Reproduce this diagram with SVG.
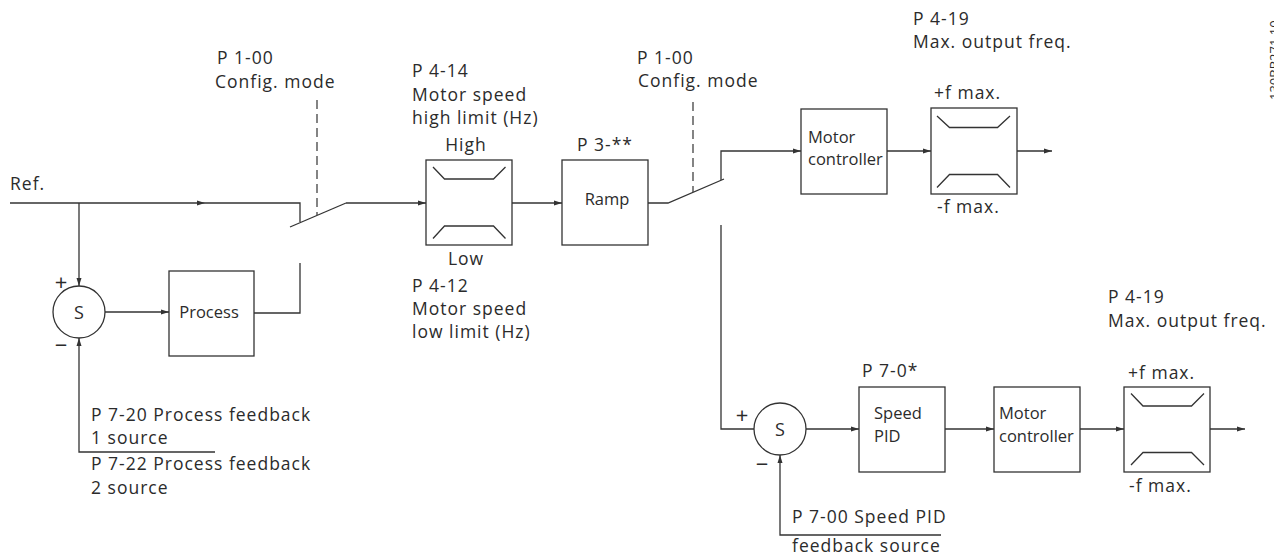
<svg xmlns="http://www.w3.org/2000/svg" width="1274" height="555" viewBox="0 0 1274 555">
<style>
  .ln{fill:none;stroke:#333;stroke-width:1.3}
  .box{fill:#fff;stroke:#333;stroke-width:1.3}
  .dash{fill:none;stroke:#333;stroke-width:1.2;stroke-dasharray:9 5}
  text{font-family:"Open Sans","Noto Sans","Liberation Sans",sans-serif;fill:#2b2b2b}
  .an{font-size:17.5px;letter-spacing:1px}
  .bl{font-size:16.5px}
  .sg{font-size:18px}
  .pm{font-size:22px}
  .mid{text-anchor:middle}
</style>
<defs>
  <marker id="ah" markerUnits="userSpaceOnUse" markerWidth="9" markerHeight="7" refX="8" refY="3" orient="auto">
    <path d="M0,0.5 L8,3 L0,5.5 z" fill="#333"/>
  </marker>
</defs>
<rect width="1274" height="555" fill="#fff"/>

<g id="connectors">
  <path class="ln" d="M10,203 H205" marker-end="url(#ah)"/>
  <path class="ln" d="M205,203 H300 V222"/>
  <path class="ln" d="M290,227 L346,203"/>
  <path class="ln" d="M346,203 H426" marker-end="url(#ah)"/>
  <path class="dash" d="M317,100 V215"/>
  <path class="ln" d="M300,263 V313 H254"/>
  <path class="ln" d="M79,203 V286" marker-end="url(#ah)"/>
  <path class="ln" d="M105,312 H169" marker-end="url(#ah)"/>
  <path class="ln" d="M215,452 H79 V338" marker-end="url(#ah)"/>
  <path class="ln" d="M512,203 H562" marker-end="url(#ah)"/>
  <path class="ln" d="M648,203 H668 L724,179"/>
  <path class="dash" d="M693,102 V192"/>
  <path class="ln" d="M721,180 V151 H801" marker-end="url(#ah)"/>
  <path class="ln" d="M887,151 H931" marker-end="url(#ah)"/>
  <path class="ln" d="M1017,151 H1052" marker-end="url(#ah)"/>
  <path class="ln" d="M721,225 V429 H754"/>
  <path class="ln" d="M806,429 H859" marker-end="url(#ah)"/>
  <path class="ln" d="M941,535 H780 V455" marker-end="url(#ah)"/>
  <path class="ln" d="M945,429 H994" marker-end="url(#ah)"/>
  <path class="ln" d="M1080,429 H1124" marker-end="url(#ah)"/>
  <path class="ln" d="M1210,429 H1245" marker-end="url(#ah)"/>
</g>

<g id="sum1">
  <circle class="box" cx="79" cy="312" r="26"/>
  <text class="sg mid" x="79" y="318.5">S</text>
  <text class="pm mid" x="61" y="290">+</text>
  <text class="pm mid" x="61" y="353">−</text>
</g>

<g id="process">
  <rect class="box" x="169" y="271" width="85" height="85"/>
  <text class="bl mid" x="209" y="318">Process</text>
</g>

<g id="limit1">
  <rect class="box" x="426" y="160" width="86" height="85"/>
  <path class="ln" d="M433,167 L444.5,179 H493.5 L505.5,167 M433,238.5 L444.5,226 H493.5 L505.5,238.5"/>
  <text class="an mid" x="466" y="151">High</text>
  <text class="an mid" x="466" y="265">Low</text>
</g>

<g id="ramp">
  <rect class="box" x="562" y="160" width="86" height="85"/>
  <text class="bl mid" x="607" y="205">Ramp</text>
  <text class="an" x="577" y="151">P 3-**</text>
</g>

<g id="motorctrl1">
  <rect class="box" x="801" y="109" width="86" height="85"/>
  <text class="bl" x="808" y="143">Motor</text>
  <text class="bl" x="808" y="165">controller</text>
</g>

<g id="limit2">
  <rect class="box" x="931" y="108" width="86" height="86"/>
  <path class="ln" d="M937,116 L949.5,127.5 H997.5 L1010,116 M937,187.5 L949.5,174.5 H997.5 L1010,187.5"/>
  <text class="an" x="934" y="99">+f max.</text>
  <text class="an" x="937" y="213">-f max.</text>
</g>

<g id="sum2">
  <circle class="box" cx="780" cy="429" r="26"/>
  <text class="sg mid" x="780" y="435.5">S</text>
  <text class="pm mid" x="742" y="423">+</text>
  <text class="pm mid" x="762" y="472">−</text>
</g>

<g id="speedpid">
  <rect class="box" x="859" y="387" width="86" height="85"/>
  <text class="bl" x="874" y="419">Speed</text>
  <text class="bl" x="874" y="442">PID</text>
  <text class="an" x="862" y="377">P 7-0*</text>
</g>

<g id="motorctrl2">
  <rect class="box" x="994" y="387" width="86" height="85"/>
  <text class="bl" x="999" y="419">Motor</text>
  <text class="bl" x="999" y="442">controller</text>
</g>

<g id="limit3">
  <rect class="box" x="1124" y="387" width="86" height="85"/>
  <path class="ln" d="M1131,393.5 L1143,406 H1191.5 L1204,393.5 M1131,465 L1143,452.5 H1191.5 L1204,465"/>
  <text class="an" x="1128" y="379">+f max.</text>
  <text class="an" x="1129" y="492">-f max.</text>
</g>

<g id="labels">
  <text class="an" x="10" y="190">Ref.</text>
  <text class="an" x="217" y="64">P 1-00</text>
  <text class="an" x="215" y="88">Config. mode</text>
  <text class="an" x="412" y="77">P 4-14</text>
  <text class="an" x="412" y="101">Motor speed</text>
  <text class="an" x="412" y="124">high limit (Hz)</text>
  <text class="an" x="412" y="292">P 4-12</text>
  <text class="an" x="412" y="315">Motor speed</text>
  <text class="an" x="412" y="338">low limit (Hz)</text>
  <text class="an" x="637" y="64">P 1-00</text>
  <text class="an" x="638" y="87">Config. mode</text>
  <text class="an" x="913" y="25">P 4-19</text>
  <text class="an" x="913" y="48">Max. output freq.</text>
  <text class="an" x="1108" y="303">P 4-19</text>
  <text class="an" x="1108" y="327">Max. output freq.</text>
  <text class="an" x="91" y="421">P 7-20 Process feedback</text>
  <text class="an" x="91" y="444">1 source</text>
  <text class="an" x="91" y="470">P 7-22 Process feedback</text>
  <text class="an" x="91" y="494">2 source</text>
  <text class="an" x="792" y="523">P 7-00 Speed PID</text>
  <text class="an" x="792" y="552">feedback source</text>
  <text transform="translate(1279,100) rotate(-90)" style="font-size:13px">130BB271.10</text>
</g>
</svg>
